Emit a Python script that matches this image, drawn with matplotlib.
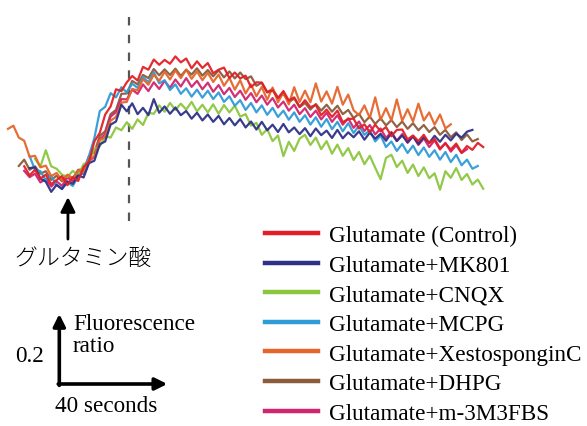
import numpy as np
import matplotlib
matplotlib.use("Agg")
import matplotlib.pyplot as plt
from matplotlib.lines import Line2D

plt.rcParams["font.family"] = ["Liberation Serif", "DejaVu Serif"]

# sampling interval of the imaging (s)
dt = 2.0

labels = [
    "Glutamate (Control)",
    "Glutamate+MK801",
    "Glutamate+CNQX",
    "Glutamate+MCPG",
    "Glutamate+XestosponginC",
    "Glutamate+DHPG",
    "Glutamate+m-3M3FBS",
]
colors = ["#e21f26", "#2e3187", "#8cc63e", "#2f9bd7", "#e5652b", "#8b5b3a", "#d2236e"]

# first sample time (s) of each recording
t_start = [6, 8, 10, 8, 0, 4, 6]

control = [
    1.022, 0.996, 1.012, 0.987, 0.998, 0.971, 0.983, 0.994, 0.968, 0.991,
    0.980, 1.020, 1.035, 1.093, 1.118, 1.170, 1.193, 1.242, 1.237, 1.262,
    1.280, 1.267, 1.306, 1.298, 1.327, 1.312, 1.326, 1.315, 1.336, 1.319,
    1.330, 1.302, 1.322, 1.303, 1.317, 1.288, 1.298, 1.304, 1.274, 1.290,
    1.273, 1.281, 1.248, 1.262, 1.261, 1.233, 1.239, 1.217, 1.237, 1.210,
    1.219, 1.192, 1.211, 1.191, 1.197, 1.168, 1.184, 1.163, 1.181, 1.148,
    1.157, 1.158, 1.130, 1.142, 1.119, 1.141, 1.122, 1.134, 1.108, 1.126,
    1.127, 1.099, 1.110, 1.094, 1.112, 1.088, 1.100, 1.073, 1.087, 1.070,
    1.087, 1.061, 1.080, 1.069, 1.089, 1.077,
]
mk801 = [
    1.017, 1.019, 0.987, 0.978, 0.949, 0.969, 0.957, 0.979, 0.972, 0.996,
    0.990, 1.031, 1.038, 1.085, 1.093, 1.141, 1.150, 1.198, 1.179, 1.202,
    1.171, 1.189, 1.168, 1.214, 1.175, 1.193, 1.172, 1.190, 1.168, 1.180,
    1.158, 1.175, 1.153, 1.170, 1.149, 1.166, 1.142, 1.160, 1.139, 1.157,
    1.133, 1.150, 1.127, 1.149, 1.125, 1.141, 1.120, 1.143, 1.119, 1.133,
    1.114, 1.131, 1.108, 1.130, 1.111, 1.124, 1.103, 1.126, 1.102, 1.119,
    1.105, 1.122, 1.098, 1.118, 1.101, 1.115, 1.095, 1.117, 1.094, 1.110,
    1.091, 1.108, 1.086, 1.105, 1.089, 1.109, 1.092, 1.112, 1.096, 1.115,
    1.104, 1.121, 1.126,
]
cnqx = [
    1.043, 1.021, 1.068, 1.022, 1.015, 0.998, 0.992, 1.009, 0.997, 1.028,
    1.035, 1.072, 1.079, 1.108, 1.104, 1.133, 1.125, 1.148, 1.129, 1.156,
    1.140, 1.175, 1.172, 1.196, 1.178, 1.203, 1.183, 1.201, 1.184, 1.206,
    1.179, 1.198, 1.176, 1.199, 1.172, 1.197, 1.176, 1.195, 1.164, 1.171,
    1.138, 1.146, 1.112, 1.128, 1.094, 1.110, 1.051, 1.092, 1.066, 1.101,
    1.112, 1.083, 1.104, 1.071, 1.094, 1.058, 1.084, 1.052, 1.074, 1.040,
    1.063, 1.028, 1.052, 1.018, 0.985, 1.046, 1.055, 1.020, 1.038, 1.003,
    1.027, 0.994, 1.019, 0.988, 1.002, 0.955, 1.008, 0.989, 1.017, 0.983,
    1.000, 0.970, 0.984, 0.958,
]
mcpg = [
    1.051, 1.012, 1.008, 0.982, 0.995, 0.968, 0.958, 0.976, 0.966, 0.993,
    1.004, 1.052, 1.103, 1.180, 1.192, 1.231, 1.219, 1.248, 1.233, 1.258,
    1.246, 1.277, 1.262, 1.291, 1.259, 1.268, 1.240, 1.256, 1.229, 1.245,
    1.221, 1.241, 1.218, 1.238, 1.214, 1.233, 1.206, 1.222, 1.195, 1.211,
    1.183, 1.203, 1.176, 1.196, 1.169, 1.189, 1.163, 1.181, 1.155, 1.176,
    1.149, 1.168, 1.141, 1.162, 1.135, 1.157, 1.128, 1.149, 1.122, 1.145,
    1.117, 1.138, 1.112, 1.125, 1.093, 1.110, 1.077, 1.093, 1.066, 1.086,
    1.060, 1.081, 1.054, 1.076, 1.049, 1.068, 1.041, 1.063, 1.034, 1.055,
    1.025, 1.041, 1.015, 1.023,
]
xesto = [
    1.129, 1.138, 1.104, 1.095, 1.049, 1.052, 1.019, 1.024, 0.994, 1.003,
    0.982, 0.998, 0.988, 1.011, 1.006, 1.042, 1.050, 1.097, 1.106, 1.152,
    1.163, 1.204, 1.206, 1.243, 1.239, 1.271, 1.255, 1.284, 1.266, 1.292,
    1.270, 1.296, 1.274, 1.298, 1.272, 1.293, 1.268, 1.289, 1.263, 1.284,
    1.252, 1.275, 1.241, 1.268, 1.230, 1.256, 1.222, 1.249, 1.212, 1.247,
    1.205, 1.233, 1.199, 1.248, 1.206, 1.238, 1.205, 1.259, 1.207, 1.236,
    1.201, 1.249, 1.198, 1.227, 1.182, 1.168, 1.196, 1.160, 1.219, 1.155,
    1.188, 1.153, 1.213, 1.152, 1.185, 1.150, 1.201, 1.153, 1.176, 1.141,
    1.170, 1.130, 1.142,
]
dhpg = [
    1.023, 1.041, 1.012, 1.022, 1.001, 1.008, 0.983, 0.995, 0.979, 0.996,
    0.987, 1.012, 1.013, 1.051, 1.062, 1.109, 1.122, 1.171, 1.183, 1.229,
    1.230, 1.266, 1.256, 1.283, 1.274, 1.300, 1.282, 1.299, 1.283, 1.301,
    1.280, 1.298, 1.284, 1.302, 1.281, 1.297, 1.279, 1.296, 1.276, 1.293,
    1.273, 1.290, 1.271, 1.279, 1.252, 1.261, 1.234, 1.243, 1.218, 1.229,
    1.205, 1.216, 1.191, 1.203, 1.184, 1.200, 1.181, 1.198, 1.178, 1.195,
    1.171, 1.183, 1.160, 1.172, 1.148, 1.164, 1.143, 1.159, 1.139, 1.154,
    1.134, 1.150, 1.129, 1.145, 1.125, 1.140, 1.120, 1.134, 1.112, 1.126,
    1.105, 1.119, 1.097, 1.113, 1.093, 1.100,
]
m3m3fbs = [
    1.009, 0.991, 1.001, 0.976, 0.986, 0.964, 0.979, 0.966, 0.990, 0.979,
    1.003, 1.000, 1.037, 1.049, 1.099, 1.114, 1.164, 1.177, 1.214, 1.213,
    1.241, 1.229, 1.256, 1.237, 1.262, 1.243, 1.266, 1.246, 1.270, 1.250,
    1.274, 1.249, 1.266, 1.242, 1.261, 1.235, 1.254, 1.228, 1.246, 1.220,
    1.238, 1.212, 1.231, 1.205, 1.224, 1.198, 1.217, 1.190, 1.207, 1.181,
    1.198, 1.171, 1.188, 1.163, 1.181, 1.156, 1.175, 1.149, 1.168, 1.141,
    1.159, 1.132, 1.150, 1.123, 1.140, 1.113, 1.130, 1.103, 1.120, 1.095,
    1.114, 1.089, 1.108, 1.083, 1.102, 1.077, 1.096, 1.070, 1.089, 1.064,
    1.082, 1.060, 1.071,
]
traces = [control, mk801, cnqx, mcpg, xesto, dhpg, m3m3fbs]

glutamate_time = 22.2   # s, application of glutamate
marker_time = 44.8      # s, dashed reference line
bar_time, bar_ratio = 40, 0.2

W, H = 587, 427
fig = plt.figure(figsize=(W / 100, H / 100), dpi=100)
ax = fig.add_axes([0, 0, 1, 1])
ax.set_xlim(-8 / 2.7, 579 / 2.7)
ax.set_ylim(0.28, 1.5)
ax.axis("off")


def fxy(px, py):
    return px / W, 1 - py / H


ax.plot([marker_time, marker_time], [0.866, 1.471], color="#555555",
        lw=1.6, dashes=(3.8, 4.2), zorder=1)

draw_order = [5, 6, 2, 3, 4, 1, 0]
for i in draw_order:
    y = np.array(traces[i])
    t = t_start[i] + dt * np.arange(len(y))
    ax.plot(t, y, color=colors[i], lw=1.6, alpha=0.95, zorder=2)

# glutamate application arrow
ax.annotate("", xy=(glutamate_time, 0.934), xytext=(glutamate_time, 0.814),
            arrowprops=dict(arrowstyle="-|>", color="black", lw=2.0,
                            mutation_scale=22, shrinkA=0, shrinkB=0))
fig.text(*fxy(14, 258), "グルタミン酸", fontsize=16.5, va="center", ha="left",
         family=["Noto Sans CJK JP", "DejaVu Sans"], fontweight="light")

# scale bar
t0, r0 = 19.0, 0.4
ax.annotate("", xy=(t0 + bar_time, r0), xytext=(t0 - 0.4, r0),
            arrowprops=dict(arrowstyle="-|>", color="black", lw=2.6,
                            mutation_scale=18, shrinkA=0, shrinkB=0))
ax.annotate("", xy=(t0, r0 + bar_ratio), xytext=(t0, r0 - 0.004),
            arrowprops=dict(arrowstyle="-|>", color="black", lw=2.6,
                            mutation_scale=18, shrinkA=0, shrinkB=0))
fig.text(*fxy(73, 325), "Fluorescence", fontsize=16.7, va="center", ha="left")
fig.text(*fxy(73, 347), "ratio", fontsize=16.7, va="center", ha="left")
fig.text(*fxy(15, 357), f"{bar_ratio}", fontsize=16.7, va="center", ha="left")
fig.text(*fxy(55, 407), f"{bar_time} seconds", fontsize=16.7, va="center", ha="left")

handles = [Line2D([], [], color=c, lw=3.2) for c in colors]
fig.legend(handles, labels, loc="upper left", bbox_to_anchor=fxy(265, 226),
           frameon=False, fontsize=16.7, handlelength=2.28, handletextpad=0.47,
           labelspacing=0.36, borderpad=0, borderaxespad=0)

fig.savefig("out.png", dpi=100)
